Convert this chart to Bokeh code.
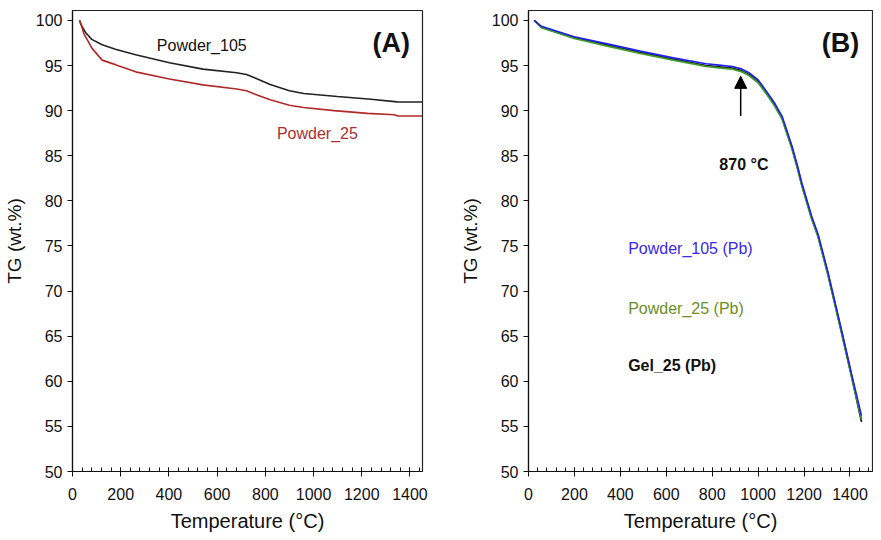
from bokeh.plotting import figure
from bokeh.layouts import row
from bokeh.models import Label, Arrow, NormalHead, SingleIntervalTicker, Range1d
from bokeh.embed import file_html
from bokeh.resources import INLINE

# ---------------- data ----------------
# Panel (A)
temp_a_105 = [29, 40, 56, 80, 123, 178, 262, 402, 541, 681, 722, 760, 820, 900, 959, 1099, 1238, 1336, 1350, 1450]
tg_a_105 = [100.0, 99.3, 98.6, 97.9, 97.3, 96.8, 96.2, 95.3, 94.6, 94.2, 94.0, 93.6, 92.9, 92.2, 91.9, 91.56, 91.27, 91.0, 90.95, 90.95]
temp_a_25 = [29, 40, 46, 81, 123, 178, 262, 402, 541, 681, 722, 760, 820, 900, 959, 1085, 1224, 1336, 1350, 1450]
tg_a_25 = [100.0, 99.2, 98.6, 96.9, 95.6, 95.1, 94.3, 93.5, 92.86, 92.4, 92.2, 91.8, 91.2, 90.6, 90.35, 90.0, 89.7, 89.55, 89.4, 89.4]

# Panel (B)
temp_b = [25, 56, 199, 343, 486, 630, 773, 830, 888, 930, 960, 1000, 1032, 1070, 1104, 1147, 1170, 1190, 1233, 1261, 1304, 1362, 1405, 1450]
tg_b_105 = [100.0, 99.35, 98.2, 97.4, 96.6, 95.85, 95.2, 95.05, 94.9, 94.6, 94.2, 93.4, 92.3, 90.9, 89.4, 86.1, 84.0, 82.0, 78.3, 76.3, 72.1, 65.8, 61.0, 56.2]
tg_b_25 = [100.0, 99.2, 98.0, 97.15, 96.35, 95.6, 94.9, 94.75, 94.6, 94.3, 93.9, 93.1, 92.0, 90.6, 89.1, 85.8, 83.7, 81.7, 78.0, 76.0, 71.8, 65.5, 60.7, 55.8]
tg_b_gel = [100.0, 99.25, 98.1, 97.25, 96.45, 95.7, 95.0, 94.85, 94.7, 94.4, 94.0, 93.2, 92.1, 90.7, 89.2, 85.9, 83.8, 81.8, 78.1, 76.1, 71.9, 65.6, 60.8, 55.5]

FONT = "Liberation Sans"


def style(p):
    p.outline_line_color = "#222222"
    p.outline_line_width = 1.2
    p.grid.visible = False
    for ax in (p.xaxis[0], p.yaxis[0]):
        ax.axis_line_color = "#111111"
        ax.axis_line_width = 1.2
        ax.major_tick_line_color = "#111111"
        ax.minor_tick_line_color = "#111111"
        ax.major_label_text_font = FONT
        ax.major_label_text_font_size = "16px"
        ax.major_label_text_color = "#111111"
        ax.axis_label_text_font = FONT
        ax.axis_label_text_font_style = "normal"
        ax.axis_label_text_color = "#111111"
    xa = p.xaxis[0]
    xa.ticker = SingleIntervalTicker(interval=200, num_minor_ticks=5)
    xa.major_tick_in = 4
    xa.major_tick_out = 5
    xa.minor_tick_in = 4
    xa.minor_tick_out = 0
    xa.major_label_standoff = 11
    xa.axis_label = "Temperature (°C)"
    xa.axis_label_text_font_size = "20px"
    xa.axis_label_standoff = 7
    ya = p.yaxis[0]
    ya.ticker = SingleIntervalTicker(interval=5, num_minor_ticks=0)
    ya.major_tick_in = 0
    ya.major_tick_out = 5
    ya.minor_tick_line_color = None
    ya.major_label_standoff = 5
    ya.axis_label = "TG (wt.%)"
    ya.axis_label_text_font_size = "19px"
    ya.axis_label_standoff = 8


# ---------------- Panel A ----------------
pa = figure(width=441, height=536, output_backend="svg", toolbar_location=None,
            x_range=Range1d(0, 1452), y_range=Range1d(50, 101.1),
            min_border_left=68, min_border_right=19, min_border_top=10, min_border_bottom=65)
style(pa)
pa.line(temp_a_105, tg_a_105, line_color="#222222", line_width=1.6)
pa.line(temp_a_25, tg_a_25, line_color="#b02a2a", line_width=1.6)
pa.add_layout(Label(x=350, y=97.2, text="Powder_105", text_font=FONT, text_font_size="16px",
                    text_color="#111111", text_baseline="middle"))
pa.add_layout(Label(x=848, y=87.5, text="Powder_25", text_font=FONT, text_font_size="16px",
                    text_color="#a83030", text_baseline="middle"))
pa.add_layout(Label(x=1400, y=97.5, text="(A)", text_font=FONT, text_font_size="27px",
                    text_font_style="bold", text_color="#111111", text_baseline="middle",
                    text_align="right"))

# ---------------- Panel B ----------------
pb = figure(width=432, height=536, output_backend="svg", toolbar_location=None,
            x_range=Range1d(0, 1498), y_range=Range1d(50, 101.1),
            min_border_left=87, min_border_right=1, min_border_top=10, min_border_bottom=63)
style(pb)
pb.line(temp_b, tg_b_gel, line_color="#1a1a1a", line_width=1.8)
pb.line(temp_b, tg_b_25, line_color="#3f9a2a", line_width=1.8)
pb.line(temp_b, tg_b_105, line_color="#2020f0", line_width=1.6)
pb.add_layout(Arrow(end=NormalHead(size=12, fill_color="black", line_color="black"),
                    x_start=924, y_start=89.4, x_end=924, y_end=93.8,
                    line_color="black", line_width=1.5))
pb.add_layout(Label(x=938, y=84.0, text="870 °C", text_font=FONT, text_font_size="16px",
                    text_font_style="bold", text_color="#111111", text_baseline="middle",
                    text_align="center"))
pb.add_layout(Label(x=434, y=74.7, text="Powder_105 (Pb)", text_font=FONT, text_font_size="16px",
                    text_color="#3a28e6", text_baseline="middle"))
pb.add_layout(Label(x=434, y=68.1, text="Powder_25 (Pb)", text_font=FONT, text_font_size="16px",
                    text_color="#6b8e23", text_baseline="middle"))
pb.add_layout(Label(x=434, y=61.7, text="Gel_25 (Pb)", text_font=FONT, text_font_size="16px",
                    text_font_style="bold", text_color="#111111", text_baseline="middle"))
pb.add_layout(Label(x=1440, y=97.5, text="(B)", text_font=FONT, text_font_size="27px",
                    text_font_style="bold", text_color="#111111", text_baseline="middle",
                    text_align="right"))

layout = row(pa, pb, spacing=0)
open("out.html", "w").write(file_html(layout, INLINE))
